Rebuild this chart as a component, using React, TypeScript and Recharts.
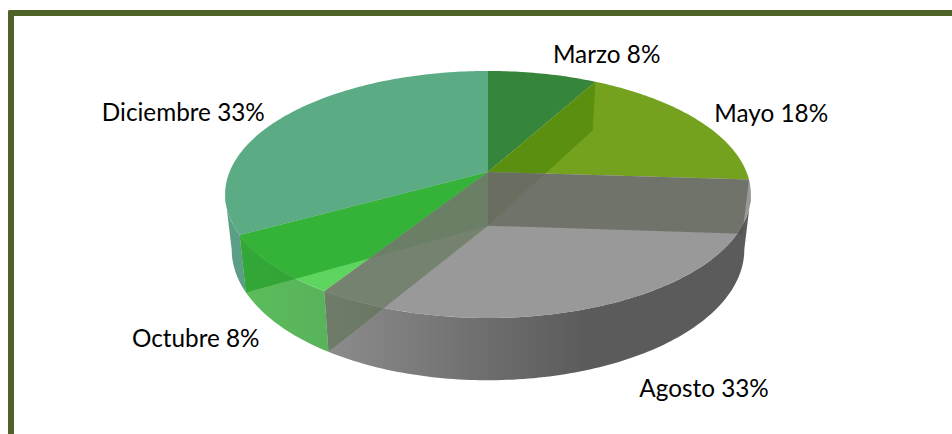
import React from "react";
import { PieChart, Pie } from "recharts";

const MONTHS = ["Marzo", "Mayo", "Agosto", "Octubre", "Diciembre"];
const SHARES = [8, 18, 33, 8, 33];

const TOP_COLORS = ["#35853a", "#74a21f", "#878787", "#5ed55e", "#5bac85"];
const TOP_OPACITY = [1, 1, 0.85, 1, 1];
const WALL_COLORS = ["#35853a", "#74a21f", "url(#agostoWall)", "url(#octubreWall)", "#5a9f85"];
const PLANE_COLORS = ["#407c00", "#474d3b", "#4f6b45", "#0a9112", "#5bac85"];
const LABEL_NUDGE = [
  [64, -20],
  [75, -7],
  [76, 88],
  [-77, 72],
  [-101, -5],
];

const data = MONTHS.map((name, i) => ({ name, value: SHARES[i] }));

const FRONT_FROM = 100.5;
const FRONT_TO = 259.5;
const TILT = 0.182;
const TOP_Y = 0.462;
const BOTTOM_X = 0.975;
const BOTTOM_Y = 0.489;
const DEPTH = 53.7;

type Pt = [number, number];

function project(cx: number, cy: number, r: number, deg: number, bottom: boolean): Pt {
  const t = (deg * Math.PI) / 180;
  const u = Math.sin(t);
  const v = -Math.cos(t);
  const d = 1 - TILT * v;
  return bottom
    ? [cx + (r * BOTTOM_X * u) / d, cy + DEPTH + (r * BOTTOM_Y * v) / d]
    : [cx + (r * u) / d, cy + (r * TOP_Y * v) / d];
}

function arc(cx: number, cy: number, r: number, a: number, b: number, bottom: boolean): Pt[] {
  const n = Math.max(1, Math.ceil(Math.abs(b - a)));
  const pts: Pt[] = [];
  for (let i = 0; i <= n; i++) pts.push(project(cx, cy, r, a + ((b - a) * i) / n, bottom));
  return pts;
}

const toPath = (pts: Pt[]) =>
  "M" + pts.map((p) => `${p[0].toFixed(2)},${p[1].toFixed(2)}`).join("L") + "Z";

const clockwise = (angle: number) => 90 - angle;
const idx = (p: any) => MONTHS.indexOf(p.name ?? p.payload?.name);

const topFace = (months: string[]) => (p: any) => {
  const i = idx(p);
  if (!months.includes(MONTHS[i])) return <g />;
  const a = clockwise(p.startAngle);
  const b = clockwise(p.endAngle);
  const pts: Pt[] = [[p.cx, p.cy], ...arc(p.cx, p.cy, p.outerRadius, a, b, false)];
  return <path d={toPath(pts)} fill={TOP_COLORS[i]} fillOpacity={TOP_OPACITY[i]} />;
};

function OuterWall(p: any) {
  const a = Math.max(clockwise(p.startAngle), FRONT_FROM);
  const b = Math.min(clockwise(p.endAngle), FRONT_TO);
  if (b <= a) return <g />;
  const pts = [
    ...arc(p.cx, p.cy, p.outerRadius, a, b, false),
    ...arc(p.cx, p.cy, p.outerRadius, b, a, true),
  ];
  return <path d={toPath(pts)} fill={WALL_COLORS[idx(p)]} />;
}

const innerPlane = (months: string[]) => (p: any) => {
  const i = idx(p);
  if (!months.includes(MONTHS[i])) return <g />;
  const b = clockwise(p.endAngle);
  const pts: Pt[] = [
    [p.cx, p.cy],
    project(p.cx, p.cy, p.outerRadius, b, false),
    project(p.cx, p.cy, p.outerRadius, b, true),
    [p.cx, p.cy + DEPTH],
  ];
  return <path d={toPath(pts)} fill={PLANE_COLORS[i]} fillOpacity={0.5} />;
};

function SliceLabel(p: any) {
  const i = idx(p);
  const [x, y] = project(p.cx, p.cy, p.outerRadius, clockwise(p.midAngle), false);
  return (
    <text
      x={x + LABEL_NUDGE[i][0]}
      y={y + LABEL_NUDGE[i][1]}
      textAnchor="middle"
      dominantBaseline="central"
      fontFamily="Lato, Carlito, sans-serif"
      fontSize={24.3}
      fill="#000000"
    >
      {`${MONTHS[i]} ${SHARES[i]}%`}
    </text>
  );
}

const pieProps = {
  data,
  dataKey: "value",
  nameKey: "name",
  cx: 488,
  cy: 172,
  outerRadius: 258.5,
  startAngle: 90,
  endAngle: -270,
  stroke: "none",
  isAnimationActive: false,
  labelLine: false,
};

export default function App() {
  return (
    <div style={{ position: "fixed", left: 0, top: 0, width: 952, height: 434, overflow: "hidden", background: "#fff" }}>
      <div
        style={{
          position: "absolute",
          left: 8,
          top: 10,
          width: 960,
          height: 440,
          borderLeft: "6px solid #4f6228",
          borderTop: "6px solid #4f6228",
          borderTopLeftRadius: 2,
        }}
      />
      <div style={{ position: "absolute", left: 0, top: 0 }}>
        <PieChart width={952} height={434} margin={{ top: 0, right: 0, bottom: 0, left: 0 }}>
          <defs>
            <linearGradient id="agostoWall" gradientUnits="userSpaceOnUse" x1={328} y1={0} x2={745} y2={0}>
              <stop offset="0" stopColor="#8c8c8c" />
              <stop offset="0.4" stopColor="#6c6c6c" />
              <stop offset="0.62" stopColor="#5b5b5b" />
              <stop offset="1" stopColor="#5b5b5b" />
            </linearGradient>
            <linearGradient id="octubreWall" gradientUnits="userSpaceOnUse" x1={240} y1={0} x2={328} y2={0}>
              <stop offset="0" stopColor="#5cbd5c" />
              <stop offset="1" stopColor="#58b35a" />
            </linearGradient>
          </defs>
          <Pie {...pieProps} shape={OuterWall} label={false} />
          <Pie {...pieProps} shape={topFace(["Marzo", "Mayo", "Octubre", "Diciembre"])} label={false} />
          <Pie {...pieProps} shape={innerPlane(["Marzo", "Octubre"])} label={false} />
          <Pie {...pieProps} shape={topFace(["Agosto"])} label={false} />
          <Pie {...pieProps} shape={innerPlane(["Mayo", "Agosto"])} label={SliceLabel} />
        </PieChart>
      </div>
    </div>
  );
}
